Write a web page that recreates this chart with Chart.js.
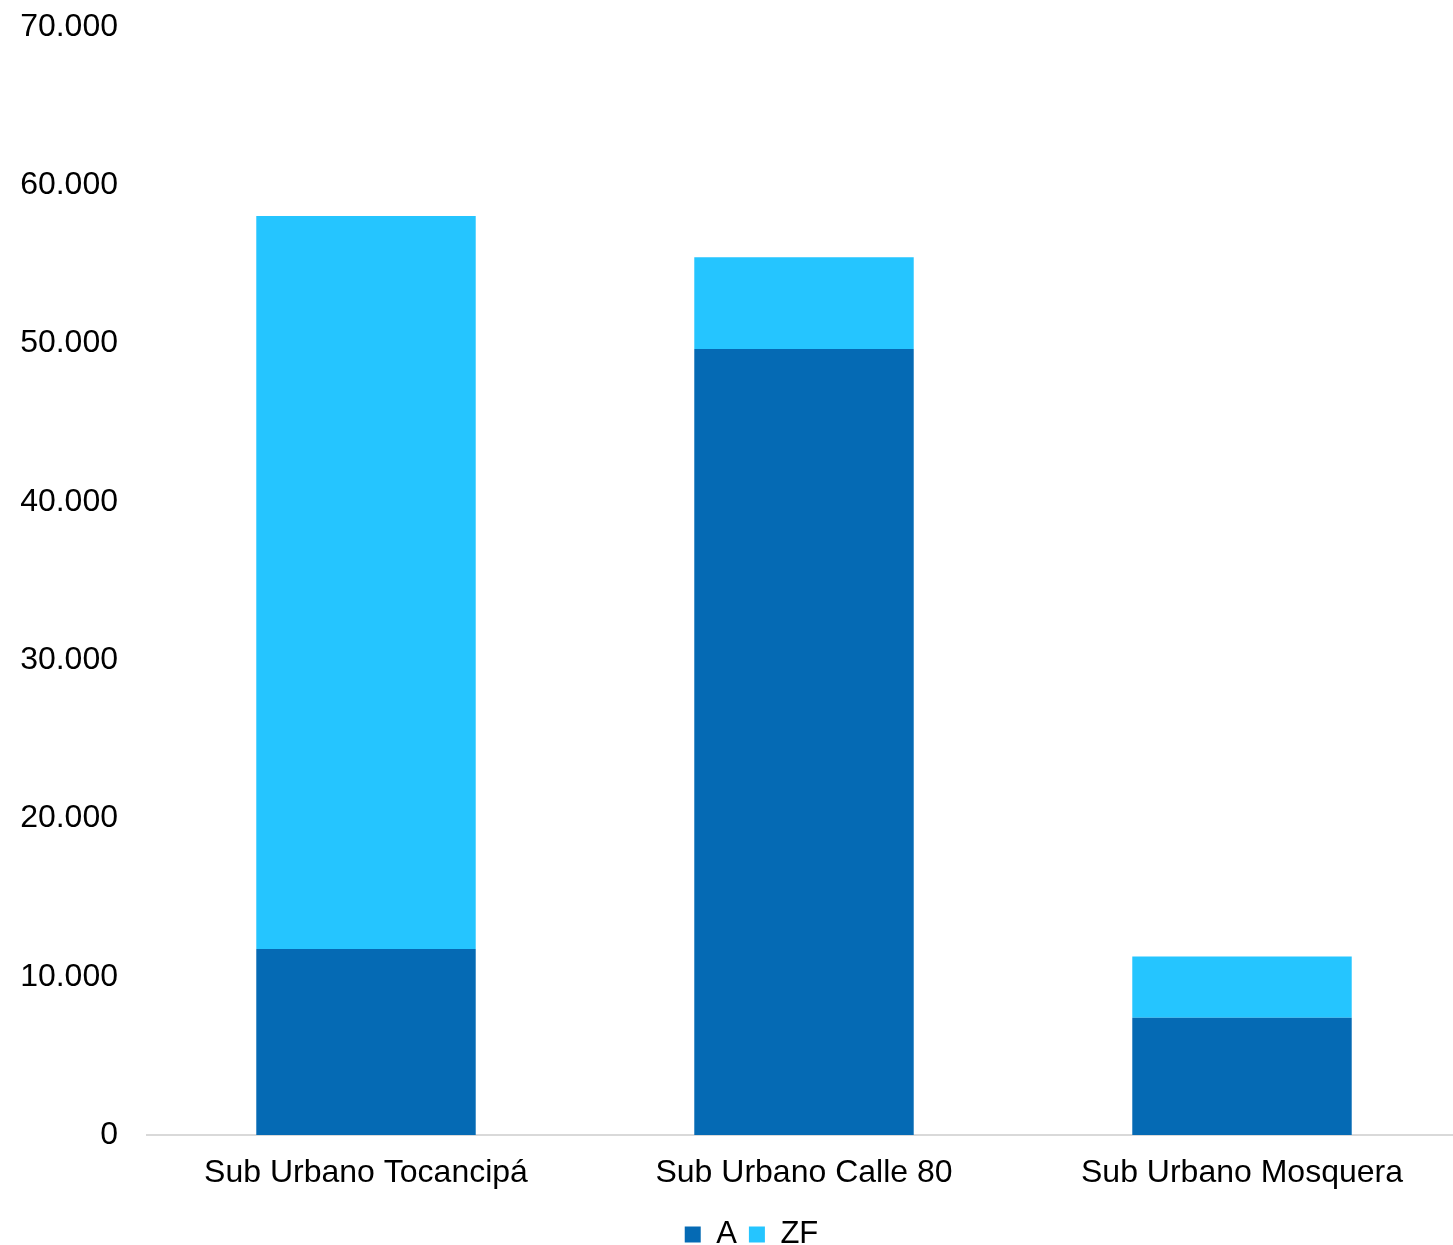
<!DOCTYPE html>
<html>
<head>
<meta charset="utf-8">
<script src="https://cdn.jsdelivr.net/npm/chart.js@4.4.1/dist/chart.umd.min.js"></script>
<style>
  html, body { margin: 0; padding: 0; background: #ffffff; overflow: hidden; }
  /* plot runs a few pixels past the right edge of the window */
  #wrap { width: 1461px; height: 1245px; position: relative; }
</style>
</head>
<body>
<div id="wrap"><canvas id="subChart"></canvas></div>
<script>
// Data
const categories = ['Sub Urbano Tocancipá', 'Sub Urbano Calle 80', 'Sub Urbano Mosquera'];
const valuesA = [11750, 49660, 7410];
const valuesZF = [46310, 5800, 3860];
const yTicks = [0, 10000, 20000, 30000, 40000, 50000, 60000, 70000];

const fmt = v => v.toLocaleString('de-DE');

Chart.defaults.font.family = '"Liberation Sans", Arial, sans-serif';
Chart.defaults.font.size = 32;
Chart.defaults.color = '#000000';

// nudge the legend a bit to the right of the canvas centre
const legendShift = {
    id: 'legendShift',
    afterLayout(chart) {
        chart.legend.left += 21;
        chart.legend.right += 21;
    }
};

const ctx = document.getElementById('subChart').getContext('2d');
const subChart = new Chart(ctx, {
    type: 'bar',
    data: {
        labels: categories,
        datasets: [{
            label: 'A',
            data: valuesA,
            backgroundColor: '#056AB4',
            categoryPercentage: 0.501,
            barPercentage: 1.0
        }, {
            label: 'ZF',
            data: valuesZF,
            backgroundColor: '#25C5FF',
            categoryPercentage: 0.501,
            barPercentage: 1.0
        }]
    },
    options: {
        responsive: true,
        maintainAspectRatio: false,
        animation: false,
        layout: {
            padding: { top: 27, right: 0, left: 0, bottom: -15 }
        },
        plugins: {
            legend: {
                position: 'bottom',
                labels: {
                    boxWidth: 16,
                    boxHeight: 16,
                    padding: 12,
                    font: { size: 31 }
                }
            },
            tooltip: { enabled: false }
        },
        scales: {
            x: {
                stacked: true,
                grid: { display: false, drawTicks: false },
                border: { color: '#d9d9d9', width: 2 },
                ticks: { padding: 19 },
                afterFit: axis => {
                    axis.height = 72;
                    axis.paddingLeft = 0;
                    axis.paddingRight = 0;
                }
            },
            y: {
                stacked: true,
                min: 0,
                max: 70000,
                afterBuildTicks: axis => {
                    axis.ticks = yTicks.map(v => ({ value: v }));
                },
                afterFit: axis => {
                    axis.width = 147;
                    // labels may overflow the plot area vertically
                    axis.paddingTop = 0;
                    axis.paddingBottom = 0;
                },
                grid: { display: false, drawTicks: false },
                border: { display: false },
                ticks: {
                    padding: 29,
                    callback: v => fmt(v)
                }
            }
        }
    },
    plugins: [legendShift]
});
</script>
</body>
</html>
